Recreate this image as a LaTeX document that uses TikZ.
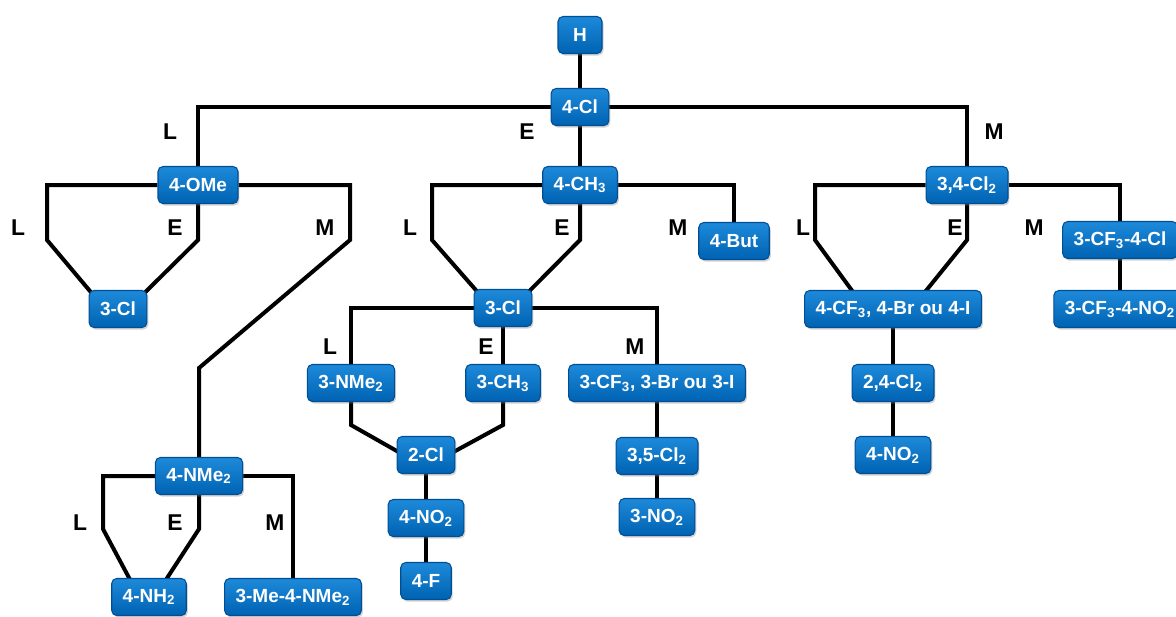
\documentclass[tikz,border=0pt]{standalone}
\usepackage{fontspec}
\setmainfont{Liberation Sans}
\usepackage{xcolor}
\usepackage{tikz}
\usetikzlibrary{backgrounds,shadows}

\definecolor{boxtop}{RGB}{30,138,218}
\definecolor{boxbot}{RGB}{0,98,178}
\definecolor{boxline}{RGB}{0,78,148}

\begin{document}
\begin{tikzpicture}[
  x=0.02cm, y=-0.02cm,
  box/.style={draw=boxline,line width=0.6pt,rounded corners=0.1cm,top color=boxtop,bottom color=boxbot,
    text=white,font=\fontsize{10.8}{12}\selectfont\bfseries,inner xsep=0.22cm,inner ysep=0pt,
    minimum height=0.74cm,minimum width=0.88cm,drop shadow={opacity=0.35,shadow xshift=0.03cm,shadow yshift=-0.04cm}},
  lbl/.style={font=\fontsize{13}{15}\selectfont\bfseries},
  link/.style={line width=0.08cm}
]
\useasboundingbox (0,0) rectangle (1176,616);
\clip (0,0) rectangle (1176,616);

% boxes
\node[box] (h) at (580,35) {H};
\node[box] (cl4) at (580,107) {4-Cl};
\node[box] (ome) at (198,185) {4-OMe};
\node[box] (ch4) at (580,185) {4-CH\textsubscript{3}};
\node[box] (dcl) at (967,185) {3,4-Cl\textsubscript{2}};
\node[box] (cl3a) at (118,309) {3-Cl};
\node[box] (but) at (734,241) {4-But};
\node[box] (cfcl) at (1120,240) {3-CF\textsubscript{3}-4-Cl};
\node[box] (cfno) at (1120,309) {3-CF\textsubscript{3}-4-NO\textsubscript{2}};
\node[box] (cfbr4) at (893,309) {4-CF\textsubscript{3}, 4-Br ou 4-I};
\node[box] (dcl24) at (893,383) {2,4-Cl\textsubscript{2}};
\node[box] (no4b) at (893,455) {4-NO\textsubscript{2}};
\node[box] (cl3b) at (503,308) {3-Cl};
\node[box] (nme3) at (351,383) {3-NMe\textsubscript{2}};
\node[box] (ch3) at (503,383) {3-CH\textsubscript{3}};
\node[box] (cfbr3) at (657,383) {3-CF\textsubscript{3}, 3-Br ou 3-I};
\node[box] (cl2) at (426,455) {2-Cl};
\node[box] (no4a) at (426,518) {4-NO\textsubscript{2}};
\node[box] (f4) at (426,581) {4-F};
\node[box] (dcl35) at (657,456) {3,5-Cl\textsubscript{2}};
\node[box] (no3) at (657,517) {3-NO\textsubscript{2}};
\node[box] (nme4) at (199,476) {4-NMe\textsubscript{2}};
\node[box] (nh4) at (149,597) {4-NH\textsubscript{2}};
\node[box] (menme) at (293,597) {3-Me-4-NMe\textsubscript{2}};

% branch letters
\node[lbl] (l1) at (170,132) {L};
\node[lbl] (e1) at (527,132) {E};
\node[lbl] (m1) at (994,132) {M};
\node[lbl] (l2) at (18,228) {L};
\node[lbl] (e2) at (175,228) {E};
\node[lbl] (m2) at (325,228) {M};
\node[lbl] (l3) at (410,228) {L};
\node[lbl] (e3) at (562,228) {E};
\node[lbl] (m3) at (678,228) {M};
\node[lbl] (l4) at (803,228) {L};
\node[lbl] (e4) at (955,228) {E};
\node[lbl] (m4) at (1034,228) {M};
\node[lbl] (l5) at (330,347) {L};
\node[lbl] (e5) at (486,347) {E};
\node[lbl] (m5) at (635,347) {M};
\node[lbl] (l6) at (80,523) {L};
\node[lbl] (e6) at (175,523) {E};
\node[lbl] (m6) at (275,523) {M};

\begin{pgfonlayer}{background}
\draw[link] (h) -- (cl4);
\draw[link] (cl4.west) -| (ome);
\draw[link] (cl4) -- (ch4);
\draw[link] (cl4.east) -| (dcl);
% 4-OMe
\draw[link] (ome.west) -| (47,240) -- ([shift={(3,3)}]cl3a.north west);
\draw[link] (ome) -- (198,240) -- ([shift={(-3,3)}]cl3a.north east);
\draw[link] (ome.east) -| (350,240) -- (199,368) -- (nme4);
% 4-CH3
\draw[link] (ch4.west) -| (432,240) -- ([shift={(4,3)}]cl3b.north west);
\draw[link] (ch4) -- (580,240) -- ([shift={(-4,3)}]cl3b.north east);
\draw[link] (ch4.east) -| (but);
% 3,4-Cl2
\draw[link] (dcl.west) -| (815,240) -- ([shift={(-40,2)}]cfbr4.north);
\draw[link] (dcl) -- (967,240) -- ([shift={(32,2)}]cfbr4.north);
\draw[link] (dcl.east) -| (cfcl);
\draw[link] (cfcl) -- (cfno);
\draw[link] (cfbr4) -- (dcl24) -- (no4b);
% 3-Cl
\draw[link] (cl3b.west) -| (nme3);
\draw[link] (cl3b) -- (ch3);
\draw[link] (cl3b.east) -| (cfbr3);
\draw[link] (nme3) -- (351,425) -- ([shift={(2,-3)}]cl2.west);
\draw[link] (ch3) -- (503,425) -- ([shift={(-2,-3)}]cl2.east);
\draw[link] (cl2) -- (no4a) -- (f4);
\draw[link] (cfbr3) -- (dcl35) -- (no3);
% 4-NMe2
\draw[link] (nme4.west) -| (103,529) -- ([shift={(19,2)}]nh4.north west);
\draw[link] (nme4) -- (199,529) -- ([shift={(-21,2)}]nh4.north east);
\draw[link] (nme4.east) -| (menme);
\end{pgfonlayer}
\end{tikzpicture}
\end{document}
